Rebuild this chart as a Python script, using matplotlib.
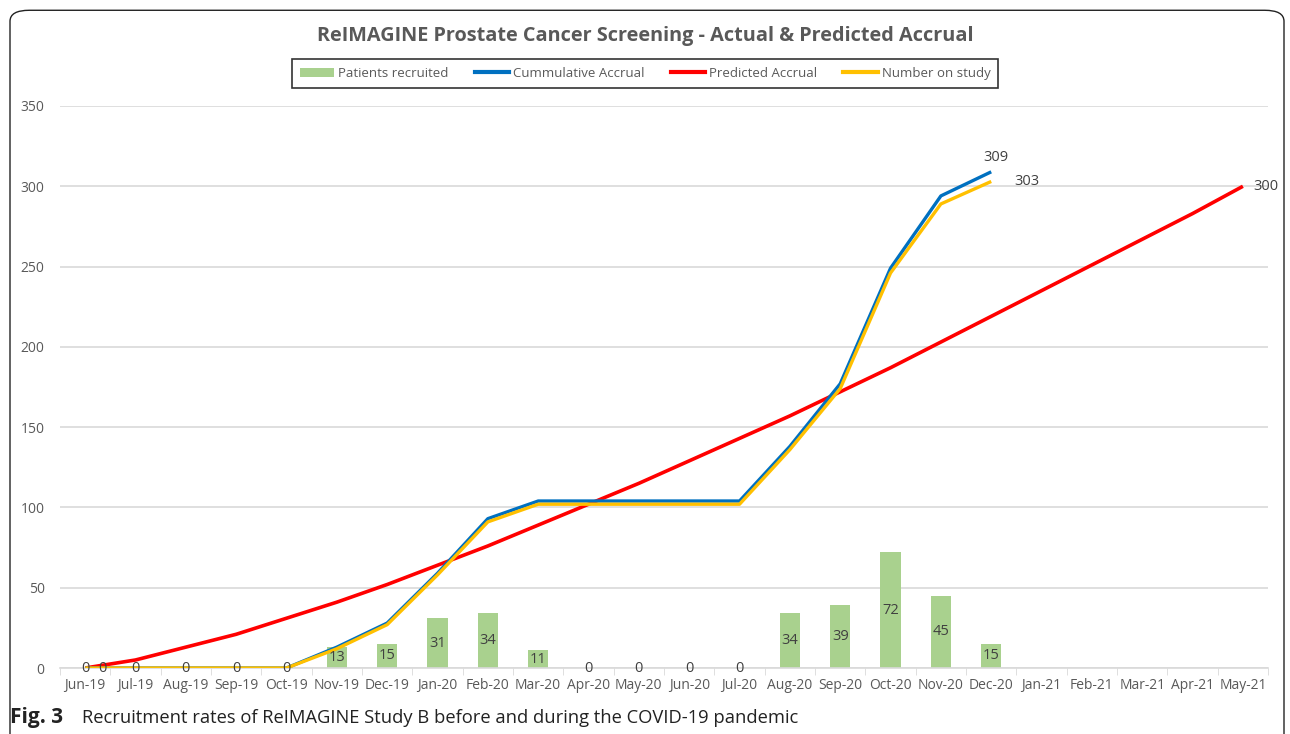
import matplotlib
matplotlib.use("Agg")
import matplotlib.pyplot as plt
from matplotlib.patches import FancyBboxPatch, Patch
from matplotlib.lines import Line2D
import numpy as np

plt.rcParams['font.family'] = ['Open Sans', 'DejaVu Sans']

months = ["Jun-19", "Jul-19", "Aug-19", "Sep-19", "Oct-19", "Nov-19", "Dec-19",
          "Jan-20", "Feb-20", "Mar-20", "Apr-20", "May-20", "Jun-20", "Jul-20",
          "Aug-20", "Sep-20", "Oct-20", "Nov-20", "Dec-20", "Jan-21", "Feb-21",
          "Mar-21", "Apr-21", "May-21"]
recruited = [0, 0, 0, 0, 0, 13, 15, 31, 34, 11, 0, 0, 0, 0, 34, 39, 72, 45, 15]
cumulative = [0, 0, 0, 0, 0, 13, 28, 59, 93, 104, 104, 104, 104, 104, 138, 177, 249, 294, 309]
on_study = [0, 0, 0, 0, 0, 12, 27, 58, 91, 102, 102, 102, 102, 102, 136, 174, 246, 289, 303]
predicted = [0, 5, 13, 21, 31, 41, 52, 64, 76, 89, 102, 115, 129, 143, 157, 172, 187,
             203, 219, 235, 251, 267, 283, 300]

GREY = "#595959"
GREEN = "#A9D18E"
BLUE = "#0070C0"
RED = "#FF0000"
GOLD = "#FFC000"

fig = plt.figure(figsize=(12.9, 7.34), dpi=100)
ax = fig.add_axes([0.0465, 0.0899, 0.9365, 0.7657])

x = np.arange(len(months))
xb = np.arange(len(recruited))
ax.bar(xb, recruited, width=0.4, color=GREEN, zorder=2)
ax.plot(np.arange(len(predicted)), predicted, color=RED, lw=2.6, zorder=3, solid_capstyle="butt")
ax.plot(np.arange(len(cumulative)), cumulative, color=BLUE, lw=2.4, zorder=4, solid_capstyle="butt")
ax.plot(np.arange(len(on_study)), on_study, color=GOLD, lw=2.4, zorder=5, solid_capstyle="butt")

# bar labels (centre of bar)
for i, v in enumerate(recruited):
    ax.text(i, v / 2, str(v), ha="center", va="center", fontsize=10.5, color="#404040", zorder=6)
ax.text(0.35, 0, "0", ha="center", va="center", fontsize=10.5, color="#404040", zorder=6)

# end labels
ax.text(len(cumulative) - 1 + 0.1, cumulative[-1] + 4, str(cumulative[-1]), ha="center", va="bottom",
        fontsize=10.5, color="#404040")
ax.text(len(on_study) - 1 + 0.45, on_study[-1], str(on_study[-1]), ha="left", va="center",
        fontsize=10.5, color="#404040")
ax.text(len(predicted) - 1 + 0.2, predicted[-1], str(predicted[-1]), ha="left", va="center",
        fontsize=10.5, color="#404040")

ax.set_xlim(-0.5, len(months) - 0.5)
ax.set_ylim(0, 350)
ax.set_yticks(range(0, 351, 50))
ax.set_xticks(x)
ax.set_xticklabels(months)
ax.set_xticks(np.arange(-0.5, len(months)), minor=True)
ax.tick_params(axis="x", which="major", length=0, colors=GREY, labelsize=10, pad=7)
ax.tick_params(axis="x", which="minor", length=5, color="#D9D9D9", direction="out")
ax.tick_params(axis="y", length=0, colors=GREY, labelsize=10, pad=11)
ax.grid(axis="y", color="#D9D9D9", lw=1.2, zorder=0)
ax.set_axisbelow(True)
for s in ["top", "right", "left"]:
    ax.spines[s].set_visible(False)
ax.spines["bottom"].set_color("#D9D9D9")
ax.spines["bottom"].set_linewidth(1.2)

fig.text(0.5, 0.951, "ReIMAGINE Prostate Cancer Screening - Actual & Predicted Accrual",
         ha="center", va="center", fontsize=14.3, fontweight="bold", color=GREY)

handles = [Patch(facecolor=GREEN, edgecolor="none"),
           Line2D([], [], color=BLUE, lw=3),
           Line2D([], [], color=RED, lw=3),
           Line2D([], [], color=GOLD, lw=3)]
labels = ["Patients recruited", "Cummulative Accrual", "Predicted Accrual", "Number on study"]
leg = fig.legend(handles, labels, loc="center", bbox_to_anchor=(0.5, 0.9), ncol=4,
                 frameon=True, fancybox=False, fontsize=9.5, labelcolor=GREY,
                 handlelength=2.6, handletextpad=0.3, columnspacing=2.0,
                 borderpad=0.6, edgecolor="black")
leg.get_frame().set_linewidth(1.2)

# outer panel border
border = FancyBboxPatch((10 / 1290, -0.05), 1274 / 1290, 1.036,
                        boxstyle="round,pad=0,rounding_size=0.015",
                        transform=fig.transFigure, fill=False, edgecolor="#222222", lw=1.0)
fig.patches.append(border)

fig.text(10 / 1290, 1 - 718 / 734, "Fig. 3", ha="left", va="center", fontsize=15,
         fontweight="bold", color="#222222")
fig.text(82 / 1290, 1 - 718 / 734, "Recruitment rates of ReIMAGINE Study B before and during the COVID-19 pandemic",
         ha="left", va="center", fontsize=13.2, color="#222222")

fig.savefig("out.png", dpi=100)
